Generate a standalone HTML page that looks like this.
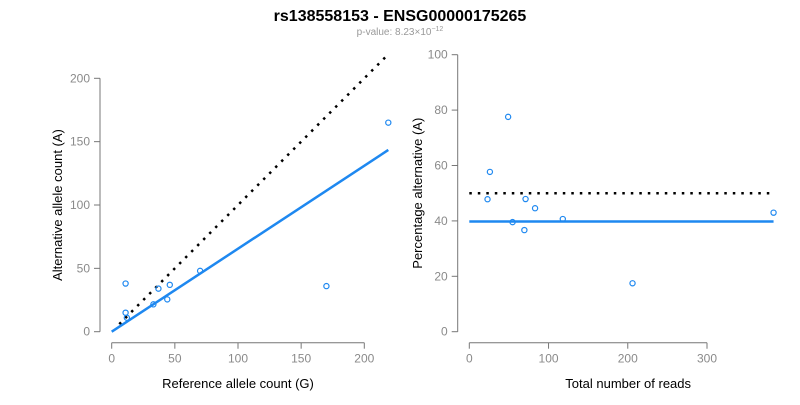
<!DOCTYPE html>
<html><head><meta charset="utf-8"><style>
body{margin:0;background:#fff;}
svg{font-family:"Liberation Sans",Arial,sans-serif;}
.tick{fill:#8a8a8a;font-size:12px;}
.lab{fill:#000;font-size:13px;}
</style></head><body>
<svg id="c" width="800" height="400" xmlns="http://www.w3.org/2000/svg">
<text x="400" y="21" text-anchor="middle" font-weight="bold" font-size="16">rs138558153 - ENSG00000175265</text>
<text x="400" y="35" text-anchor="middle" font-size="10" fill="#999">p-value: 8.23×10<tspan dy="-4" font-size="7">−12</tspan></text>
</svg>
<script>
const refCounts=[11,11,12,33,37,44,46,70,170,219];
const altCounts=[38,15,11,21.6,34,25.5,37,48,36,165];
const leftFitSlope=0.655;
const rightFitPct=39.8;
const leftXTicks=[0,50,100,150,200];
const leftYTicks=[0,50,100,150,200];
const rightXTicks=[0,100,200,300];
const rightYTicks=[0,20,40,60,80,100];
const svg=document.getElementById('c');
const NS='http://www.w3.org/2000/svg';
function mk(t,a,name,parent){const e=document.createElementNS(NS,t);for(const k in a)e.setAttribute(k,a[k]);


(parent||svg).appendChild(e);return e;}
function panel(o){
  const g=mk('g',{},o.name);
  const X=v=>o.x0+(v-o.xmin)*(o.x1-o.x0)/(o.xmax-o.xmin);
  const Y=v=>o.y0-(v-o.ymin)*(o.y0-o.y1)/(o.ymax-o.ymin);
  const ax=342.7, ay=o.yaxisX;
  mk('line',{x1:X(o.xt[0]),x2:X(o.xt[o.xt.length-1]),y1:ax,y2:ax,stroke:'#777'},'x-axis-line',g);
  o.xt.forEach(t=>{mk('line',{x1:X(t),x2:X(t),y1:ax,y2:ax+6,stroke:'#777'},'x-tick',g);
    const tx=mk('text',{x:X(t),y:ax+20,'text-anchor':'middle',class:'tick'},'x-tick-label',g);tx.textContent=t;});
  mk('line',{x1:ay,x2:ay,y1:Y(o.yt[0]),y2:Y(o.yt[o.yt.length-1]),stroke:'#777'},'y-axis-line',g);
  o.yt.forEach(t=>{mk('line',{x1:ay,x2:ay-6,y1:Y(t),y2:Y(t),stroke:'#777'},'y-tick',g);
    const tx=mk('text',{x:ay-10,y:Y(t)+4,'text-anchor':'end',class:'tick'},'y-tick-label',g);tx.textContent=t;});
  const xl=mk('text',{x:(X(o.xt[0])+X(o.xt[o.xt.length-1]))/2+o.xlOff,y:388,'text-anchor':'middle',class:'lab'},'x-axis-title',g);xl.textContent=o.xlab;
  const yl=mk('text',{x:0,y:0,'text-anchor':'middle',class:'lab',transform:`translate(${o.ylx},${(Y(o.yt[0])+Y(o.yt[o.yt.length-1]))/2}) rotate(-90)`},'y-axis-title',g);yl.textContent=o.ylab;
  mk('line',{x1:X(o.ref[0][0]),y1:Y(o.ref[0][1]),x2:X(o.ref[1][0]),y2:Y(o.ref[1][1]),stroke:'#000','stroke-width':2.5,'stroke-dasharray':'2.5 6'},'reference-line',g);
  mk('line',{x1:X(o.fit[0][0]),y1:Y(o.fit[0][1]),x2:X(o.fit[1][0]),y2:Y(o.fit[1][1]),stroke:'#1e88f0','stroke-width':2.5},'fit-line',g);
  o.pts.forEach(p=>mk('circle',{cx:X(p[0]),cy:Y(p[1]),r:2.6,fill:'none',stroke:'#1e88f0','stroke-width':1.2},'data-point',g));
}
const maxRef=Math.max(...refCounts);
panel({name:'allele-count-panel',x0:111.7,x1:364.3,xmin:0,xmax:200,y0:331.7,y1:78.3,ymin:0,ymax:200,
  xt:leftXTicks,yt:leftYTicks,yaxisX:100,xlab:'Reference allele count (G)',xlOff:0,ylab:'Alternative allele count (A)',ylx:62,
  ref:[[6,6],[218,218]],fit:[[0,0],[maxRef,maxRef*leftFitSlope]],
  pts:refCounts.map((r,i)=>[r,altCounts[i]])});
const totals=refCounts.map((r,i)=>r+altCounts[i]);
const pcts=altCounts.map((a,i)=>100*a/totals[i]);
const maxT=Math.max(...totals);
panel({name:'percentage-panel',x0:469.3,x1:707,xmin:0,xmax:300,y0:331.7,y1:54.7,ymin:0,ymax:100,
  xt:rightXTicks,yt:rightYTicks,yaxisX:457.7,xlab:'Total number of reads',xlOff:40,ylab:'Percentage alternative (A)',ylx:422,
  ref:[[0,50],[maxT,50]],fit:[[0,rightFitPct],[maxT,rightFitPct]],
  pts:totals.map((t,i)=>[t,pcts[i]])});
</script>
</body></html>
